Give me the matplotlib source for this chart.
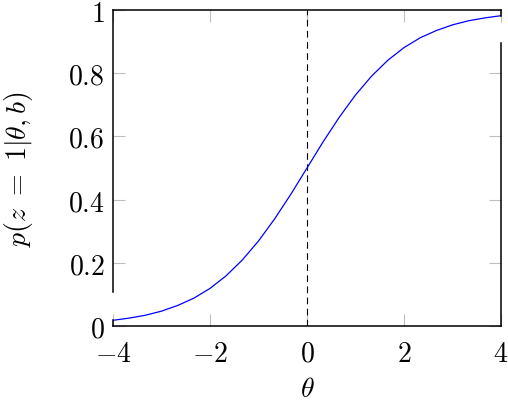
import matplotlib
matplotlib.use("Agg")
import matplotlib.pyplot as plt
from matplotlib.ticker import FixedLocator, FuncFormatter

plt.rcParams['mathtext.fontset'] = 'cm'
plt.rcParams['font.family'] = ['DejaVu Serif']

# sampled curve, 25 points from -4 to 4
theta = [-4.0, -3.667, -3.333, -3.0, -2.667, -2.333, -2.0, -1.667, -1.333,
         -1.0, -0.667, -0.333, 0.0, 0.333, 0.667, 1.0, 1.333, 1.667, 2.0,
         2.333, 2.667, 3.0, 3.333, 3.667, 4.0]
prob = [0.018, 0.025, 0.034, 0.047, 0.065, 0.088, 0.119, 0.159, 0.209,
        0.269, 0.339, 0.417, 0.500, 0.583, 0.661, 0.731, 0.791, 0.841, 0.881,
        0.912, 0.935, 0.953, 0.966, 0.975, 0.982]

xticks = [-4, -2, 0, 2, 4]
yticks = [0, 0.2, 0.4, 0.6, 0.8, 1]

fig = plt.figure(figsize=(5.08, 4.02), dpi=100)
ax = fig.add_axes([113 / 508, 75 / 402, 388 / 508, 316 / 402])

ax.plot(theta, prob, color='blue', lw=0.9, zorder=3)
ax.axvline(0, color='black', lw=0.8, ls=(0, (6, 4)), zorder=2)

ax.set_xlim(-4, 4)
ax.set_ylim(0, 1)

ax.xaxis.set_major_locator(FixedLocator(xticks))
ax.yaxis.set_major_locator(FixedLocator(yticks))
fmt = FuncFormatter(lambda v, p: '$%g$' % v)
ax.xaxis.set_major_formatter(fmt)
ax.yaxis.set_major_formatter(fmt)
ax.tick_params(direction='in', length=8.5, width=0.8, color='#bfbfbf',
               top=True, right=True, labelsize=20, pad=6)
ax.tick_params(axis='x', pad=10)

ax.spines['top'].set_linewidth(1.1)
ax.spines['bottom'].set_linewidth(1.1)
ax.spines['left'].set_visible(False)
ax.spines['right'].set_visible(False)
# side frame lines, broken near the curve ends
for x0, segs in [(-4, [(0, 0.018), (0.108, 1)]), (4, [(0, 0.896), (0.982, 1)])]:
    for y0, y1 in segs:
        ax.plot([x0, x0], [y0, y1], color='black', lw=1.1, clip_on=False,
                solid_capstyle='projecting', zorder=4)

ax.set_xlabel(r'$\theta$', fontsize=20, labelpad=6)
ax.set_ylabel(r'$p(z\ =\ 1|\theta,b)$', fontsize=20, labelpad=24)

fig.savefig('out.png', dpi=100)
